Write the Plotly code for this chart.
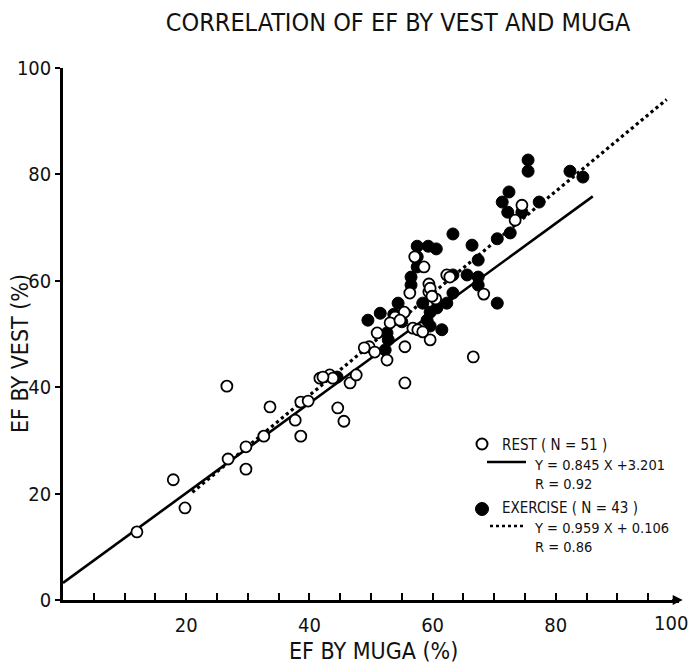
import plotly.graph_objects as go

# ---------------- data ----------------
rest_x = [12.0, 17.9, 19.8, 26.6, 26.8, 29.7, 29.7, 32.6, 33.6, 37.7,
          38.6, 38.6, 39.8, 41.7, 43.3, 43.8, 44.6, 45.6, 46.6, 47.6,
          49.7, 50.6, 55.5, 66.6, 68.3, 56.3, 58.6, 57.1, 59.4, 60.5,
          59.6, 55.5, 52.6, 51.0, 56.8, 57.6, 58.4, 62.3, 74.5, 73.4,
          59.4, 54.2, 55.4, 53.9, 62.8, 59.6, 48.9, 42.2, 53.1, 54.7, 59.9]
rest_y = [12.8, 22.6, 17.3, 40.2, 26.5, 24.6, 28.8, 30.8, 36.3, 33.8,
          30.8, 37.2, 37.4, 41.7, 42.3, 41.7, 36.1, 33.6, 40.8, 42.3,
          47.6, 46.6, 40.8, 45.7, 57.5, 57.7, 62.6, 64.5, 59.4, 56.6,
          48.9, 47.6, 45.1, 50.2, 51.1, 50.8, 50.4, 61.1, 74.2, 71.4,
          57.9, 53.0, 54.1, 53.2, 60.7, 58.6, 47.4, 41.9, 52.1, 52.6, 57.1]

ex_x = [75.5, 75.5, 72.4, 71.3, 72.2, 74.5, 77.3, 72.6, 70.5, 63.3,
        66.4, 67.4, 70.5, 57.5, 59.3, 60.6, 57.5, 57.5, 56.5, 56.5,
        63.3, 65.6, 67.4, 67.4, 54.4, 49.5, 51.5, 58.4, 59.6, 63.3,
        62.3, 60.7, 55.0, 59.1, 59.6, 52.6, 52.8, 52.3, 44.5, 82.3,
        84.4, 61.5, 53.7]
ex_y = [82.7, 80.6, 76.7, 74.8, 72.9, 72.9, 74.8, 69.0, 67.9, 68.8,
        66.7, 63.9, 55.8, 66.5, 66.5, 66.0, 64.5, 62.6, 60.7, 59.2,
        61.1, 61.1, 60.7, 59.2, 55.8, 52.6, 53.9, 55.8, 54.1, 57.7,
        55.8, 54.9, 52.3, 52.6, 51.5, 50.2, 48.9, 47.0, 41.9, 80.6,
        79.5, 50.8, 53.7]

# regression lines: slope, intercept, x-extent
rest_slope, rest_icpt, rest_xr = 0.845, 3.201, [0, 86]
ex_slope, ex_icpt, ex_xr = 0.959, 0.106, [21, 98]

x_ticks = list(range(0, 101, 5))
x_labels = ["" if (v % 20 or v == 0) else str(v) for v in x_ticks]
x_last_label = x_labels[-1]          # "100" drawn separately so it stays inside the page
x_labels[-1] = ""
y_ticks = [0, 20, 40, 60, 80, 100]
y_labels = [str(v) for v in y_ticks]

title = "CORRELATION OF EF BY VEST AND MUGA"
x_title = "EF BY MUGA (%)"
y_title = "EF BY VEST (%)"
leg_rest_head = "REST ( N = 51 )"
leg_rest_body = "Y = 0.845 X +3.201<br>R = 0.92"
leg_ex_head = "EXERCISE ( N = 43 )"
leg_ex_body = "Y = 0.959 X + 0.106<br>R = 0.86"

FONT = "Liberation Sans Narrow, Arial Narrow, DejaVu Sans Condensed, sans-serif"

fig = go.Figure()

fig.add_trace(go.Scatter(
    x=rest_xr, y=[rest_slope * v + rest_icpt for v in rest_xr],
    mode="lines", line=dict(color="black", width=2.6), showlegend=False, hoverinfo="skip"))
fig.add_trace(go.Scatter(
    x=ex_xr, y=[ex_slope * v + ex_icpt for v in ex_xr],
    mode="lines", line=dict(color="black", width=3.2, dash="dot"), showlegend=False, hoverinfo="skip"))

fig.add_trace(go.Scatter(
    x=ex_x, y=ex_y, mode="markers", cliponaxis=False,
    marker=dict(size=12, color="black", line=dict(color="black", width=1)),
    showlegend=False))
fig.add_trace(go.Scatter(
    x=rest_x, y=rest_y, mode="markers", cliponaxis=False,
    marker=dict(size=11, color="white", line=dict(color="black", width=1.8)),
    showlegend=False))

fig.update_layout(
    width=691, height=669,
    margin=dict(l=63, r=12, t=68, b=69, autoexpand=False),
    paper_bgcolor="white", plot_bgcolor="white",
    font=dict(family=FONT, color="black"),
    title=dict(text=title, x=398 / 691, xref="container", xanchor="center",
               y=1 - 22 / 669, yref="container", yanchor="middle",
               font=dict(size=25, family=FONT, color="#111")),
    showlegend=False,
)

fig.update_xaxes(
    range=[0, 100], showgrid=False, zeroline=False, automargin=False,
    showline=True, linecolor="black", linewidth=2.5,
    tickmode="array", tickvals=x_ticks, ticktext=x_labels,
    ticks="inside", ticklen=7, tickwidth=1.5, tickcolor="black",
    tickfont=dict(size=20, family=FONT, color="#111"),
    ticklabelstandoff=5,
)
fig.update_yaxes(
    range=[0, 100], showgrid=False, zeroline=False, automargin=False,
    showline=True, linecolor="black", linewidth=2.5,
    tickmode="array", tickvals=y_ticks, ticktext=y_labels,
    ticks="outside", ticklen=5, tickwidth=1.5, tickcolor="black",
    tickfont=dict(size=20, family=FONT, color="#111"),
)

def px_to_paper(px, py):
    return (px - 63) / 616, (600 - py) / 532

ann = []
# "100" label at right end of x axis
lx, ly = px_to_paper(690, 623)
ann.append(dict(text=x_last_label, xref="paper", yref="paper", x=lx, y=ly,
                xanchor="right", yanchor="middle", showarrow=False,
                font=dict(size=20, family=FONT, color="#111")))
# axis titles
ax_, ay_ = px_to_paper(373, 651)
ann.append(dict(text=x_title, xref="paper", yref="paper", x=ax_, y=ay_,
                xanchor="center", yanchor="middle",
                showarrow=False, font=dict(size=23, family=FONT, color="#111")))
ax_, ay_ = px_to_paper(20, 354)
ann.append(dict(text=y_title, xref="paper", yref="paper", x=ax_, y=ay_, textangle=-90,
                xanchor="center", yanchor="middle",
                showarrow=False, font=dict(size=23, family=FONT, color="#111")))

# legend texts
for txt, (px, py) in [(leg_rest_head, (500, 445)), (leg_ex_head, (500, 508))]:
    lx, ly = px_to_paper(px, py)
    ann.append(dict(text=txt, xref="paper", yref="paper", x=lx, y=ly,
                    xanchor="left", yanchor="middle", showarrow=False,
                    font=dict(size=15, family=FONT, color="#111")))
for txt, (px, py) in [(leg_rest_body, (532, 455)), (leg_ex_body, (532, 518))]:
    lx, ly = px_to_paper(px, py)
    ann.append(dict(text=txt, xref="paper", yref="paper", x=lx, y=ly,
                    xanchor="left", yanchor="top", align="left", showarrow=False,
                    font=dict(size=14.5, family=FONT, color="#111")))

# arrow at end of x axis
ann.append(dict(x=1.006, y=0, xref="paper", yref="paper", ax=-12, ay=0,
                showarrow=True, arrowhead=2, arrowsize=1, arrowwidth=2, arrowcolor="black", text=""))
fig.update_layout(annotations=ann)

# legend symbols
shapes = []
cx, cy = px_to_paper(482, 444)
rx, ry = 5.5 / 616, 5.5 / 532
shapes.append(dict(type="circle", xref="paper", yref="paper",
                   x0=cx - rx, x1=cx + rx, y0=cy - ry, y1=cy + ry,
                   line=dict(color="black", width=2), fillcolor="white"))
cx, cy = px_to_paper(482, 509)
rx, ry = 6.5 / 616, 6.5 / 532
shapes.append(dict(type="circle", xref="paper", yref="paper",
                   x0=cx - rx, x1=cx + rx, y0=cy - ry, y1=cy + ry,
                   line=dict(color="black", width=1), fillcolor="black"))
x0, y0 = px_to_paper(487, 462)
x1, _ = px_to_paper(526, 462)
shapes.append(dict(type="line", xref="paper", yref="paper", x0=x0, x1=x1, y0=y0, y1=y0,
                   line=dict(color="black", width=2.5)))
x0, y0 = px_to_paper(490, 526)
x1, _ = px_to_paper(523, 526)
shapes.append(dict(type="line", xref="paper", yref="paper", x0=x0, x1=x1, y0=y0, y1=y0,
                   line=dict(color="black", width=2.5, dash="dot")))
fig.update_layout(shapes=shapes)

fig.write_html("out.html")
